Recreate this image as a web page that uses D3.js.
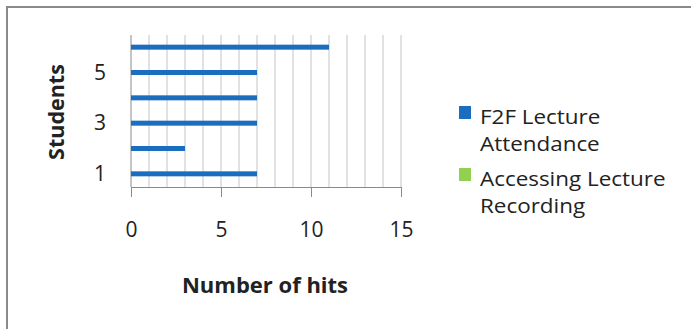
<!DOCTYPE html>
<html>
<head>
<meta charset="utf-8">
<script src="https://cdn.jsdelivr.net/npm/d3@7"></script>
<style>
  body { margin: 0; background: #fff; }
  text { font-family: "Open Sans", sans-serif; fill: #222; }
</style>
</head>
<body>
<div id="chart"></div>
<script>
// data
const students = [1, 2, 3, 4, 5, 6];
const f2fHits = [7, 3, 7, 7, 7, 11];
const recordingHits = [0, 0, 0, 0, 0, 0];
const xTicks = [0, 5, 10, 15];
const yTickLabels = [1, 3, 5];
const seriesNames = ["F2F Lecture Attendance", "Accessing Lecture Recording"];
const seriesColors = ["#1a6dbf", "#92d050"];

const W = 691, H = 329;
const margin = {top: 35, left: 131},
      width = 270, height = 152;

const svg = d3.select("#chart").append("svg")
    .attr("width", W).attr("height", H);

// outer frame
svg.append("rect")
    .attr("x", 7).attr("y", 7)
    .attr("width", W + 10).attr("height", H + 10)
    .attr("fill", "none").attr("stroke", "#8a8a8a").attr("stroke-width", 2);

const g = svg.append("g").attr("transform", `translate(${margin.left},${margin.top})`);

const x = d3.scaleLinear().domain([0, 15]).range([0, width]);
const y = d3.scaleBand().domain(students).range([height, 0]);

// vertical gridlines every unit
g.append("g")
  .selectAll("line")
  .data(d3.range(1, 16))
  .join("line")
    .attr("x1", d => x(d)).attr("x2", d => x(d))
    .attr("y1", 0).attr("y2", height)
    .attr("stroke", "#c4c4c4").attr("stroke-width", 1);

// x axis
const xAxis = g.append("g")
    .attr("transform", `translate(0,${height})`)
    .call(d3.axisBottom(x).tickValues(xTicks).tickSize(10).tickPadding(25));
xAxis.select(".domain").attr("stroke", "#8a8a8a");
xAxis.selectAll(".tick line").attr("stroke", "#8a8a8a");
xAxis.selectAll("text").style("font-size", "21px").attr("fill", "#333")
    .style("font-family", "'Open Sans', sans-serif");

// y axis
const yAxis = g.append("g")
    .call(d3.axisLeft(y).tickValues(yTickLabels).tickSize(0).tickPadding(25));
yAxis.select(".domain").attr("stroke", "#8a8a8a").attr("d", `M0,0V${height}`);
yAxis.selectAll("text").style("font-size", "21px").attr("fill", "#333")
    .style("font-family", "'Open Sans', sans-serif");

// bars
const barH = 5;
g.append("g")
  .selectAll("rect")
  .data(students.map((s, i) => ({s, v: f2fHits[i]})))
  .join("rect")
    .attr("x", 0)
    .attr("y", d => y(d.s) + y.bandwidth() / 2 - barH / 2 - 0.5)
    .attr("width", d => x(d.v))
    .attr("height", barH)
    .attr("fill", seriesColors[0]);

g.append("g")
  .selectAll("rect")
  .data(students.map((s, i) => ({s, v: recordingHits[i]})))
  .join("rect")
    .attr("x", 0)
    .attr("y", d => y(d.s) + y.bandwidth() / 2 + barH / 2)
    .attr("width", d => x(d.v))
    .attr("height", barH)
    .attr("fill", seriesColors[1]);

// axis titles
svg.append("text")
    .attr("x", 265).attr("y", 293)
    .attr("text-anchor", "middle")
    .style("font-size", "22px").style("font-weight", "bold")
    .text("Number of hits");

svg.append("text")
    .attr("transform", "translate(64,112) rotate(-90)")
    .attr("text-anchor", "middle")
    .style("font-size", "21.5px").style("font-weight", "bold")
    .text("Students");

// legend (names wrapped onto two lines like the original, text a bit stretched)
const legendLines = [["F2F Lecture", "Attendance"], ["Accessing Lecture", "Recording"]];
const legend = svg.append("g").attr("transform", "translate(459,106)");
legendLines.forEach((lines, i) => {
  const item = legend.append("g").attr("transform", `translate(0,${i * 62})`);
  item.append("rect").attr("width", 12).attr("height", 13).attr("fill", seriesColors[i]);
  lines.forEach((t, j) => {
    item.append("text")
      .attr("transform", `translate(21,${18 + j * 27}) scale(1.15,1)`)
      .style("font-size", "19.5px").attr("fill", "#333")
      .text(t);
  });
});
</script>
</body>
</html>
